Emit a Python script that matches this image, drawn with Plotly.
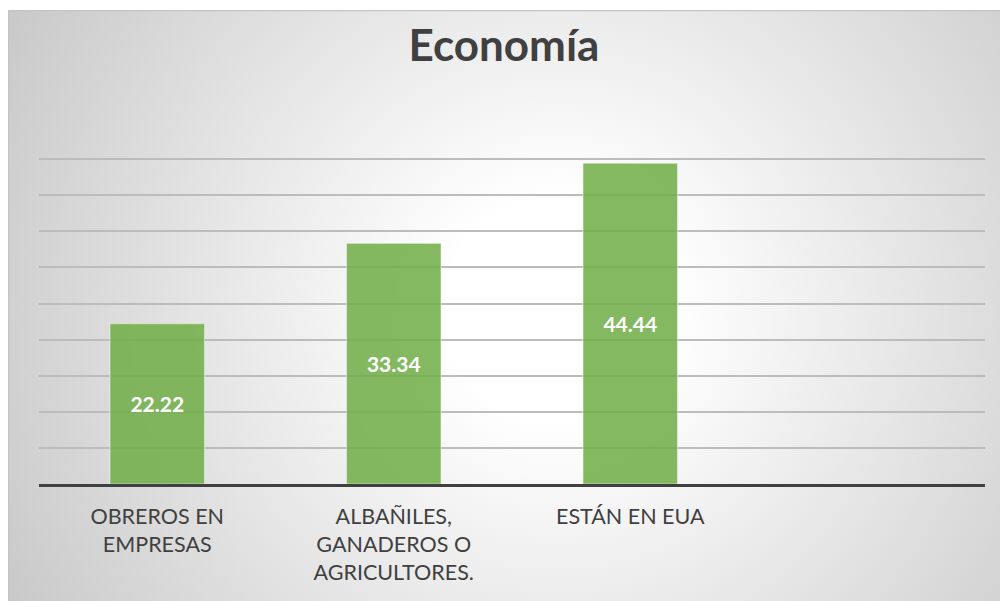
import base64
import plotly.graph_objects as go

categories = ["OBREROS EN<br>EMPRESAS", "ALBAÑILES,<br>GANADEROS O<br>AGRICULTORES.", "ESTÁN EN EUA"]
values = [22.22, 33.34, 44.44]
title_text = "Economía"

W, H = 1000, 601
ML, MR, MT, MB = 39, 15, 123, 117
PW, PH = W - ML - MR, H - MT - MB

# background radial gradient frame (style only)
FX, FY = 8, 10
FW, FH = W - FX, H - FY
svg = (
    f'<svg xmlns="http://www.w3.org/2000/svg" width="{FW}" height="{FH}" '
    f'viewBox="0 0 {FW} {FH}" preserveAspectRatio="none">'
    '<defs><radialGradient id="g" gradientUnits="userSpaceOnUse" cx="550" cy="300" r="690">'
    '<stop offset="0" stop-color="#ffffff"/><stop offset="0.16" stop-color="#ffffff"/>'
    '<stop offset="1" stop-color="#c2c2c2"/></radialGradient></defs>'
    f'<rect x="0" y="0" width="{FW}" height="{FH}" fill="url(#g)"/>'
    f'<path d="M0.5 {FH} V0.5 H{FW}" fill="none" stroke="#c4c4c4" stroke-width="1.5"/>'
    '</svg>'
)
src = "data:image/svg+xml;base64," + base64.b64encode(svg.encode("utf-8")).decode("ascii")

fig = go.Figure()
fig.add_trace(go.Bar(
    x=categories,
    y=values,
    width=0.4,
    marker=dict(color="rgba(112,173,71,0.86)", line=dict(color="rgba(255,255,255,0.45)", width=1.2)),
    texttemplate="%{y:.2f}",
    textposition="inside",
    insidetextanchor="middle",
    textangle=0,
    constraintext="none",
    textfont=dict(family="Lato", size=21, color="white", weight="bold"),
    hoverinfo="skip",
))

fig.update_layout(
    width=W, height=H,
    margin=dict(l=ML, r=MR, t=MT, b=MB, pad=0),
    paper_bgcolor="white",
    plot_bgcolor="rgba(0,0,0,0)",
    showlegend=False,
    title=dict(text=title_text, x=0.504, xref="container", xanchor="center",
               y=1 - 46 / H, yref="container", yanchor="middle",
               font=dict(family="Lato", size=44, color="#404040", weight="bold")),
    images=[dict(source=src, xref="paper", yref="paper",
                 x=(FX - ML) / PW, y=1 + (MT - FY) / PH,
                 sizex=FW / PW, sizey=FH / PH,
                 xanchor="left", yanchor="top", sizing="stretch", layer="below")],
    xaxis=dict(type="category", range=[-0.5, 3.5], showline=True, linecolor="#404040",
               linewidth=3, ticks="", showgrid=False, zeroline=False,
               tickfont=dict(family="Lato", size=21.5, color="#404040"), ticklabelstandoff=11),
    yaxis=dict(range=[0, 50], dtick=5, showticklabels=False, showgrid=True,
               gridcolor="#bcbcbc", gridwidth=1.5, zeroline=False, showline=False, ticks=""),
)

fig.write_html("out.html", config={"displayModeBar": False},
               post_script="document.body.style.margin='0';")
